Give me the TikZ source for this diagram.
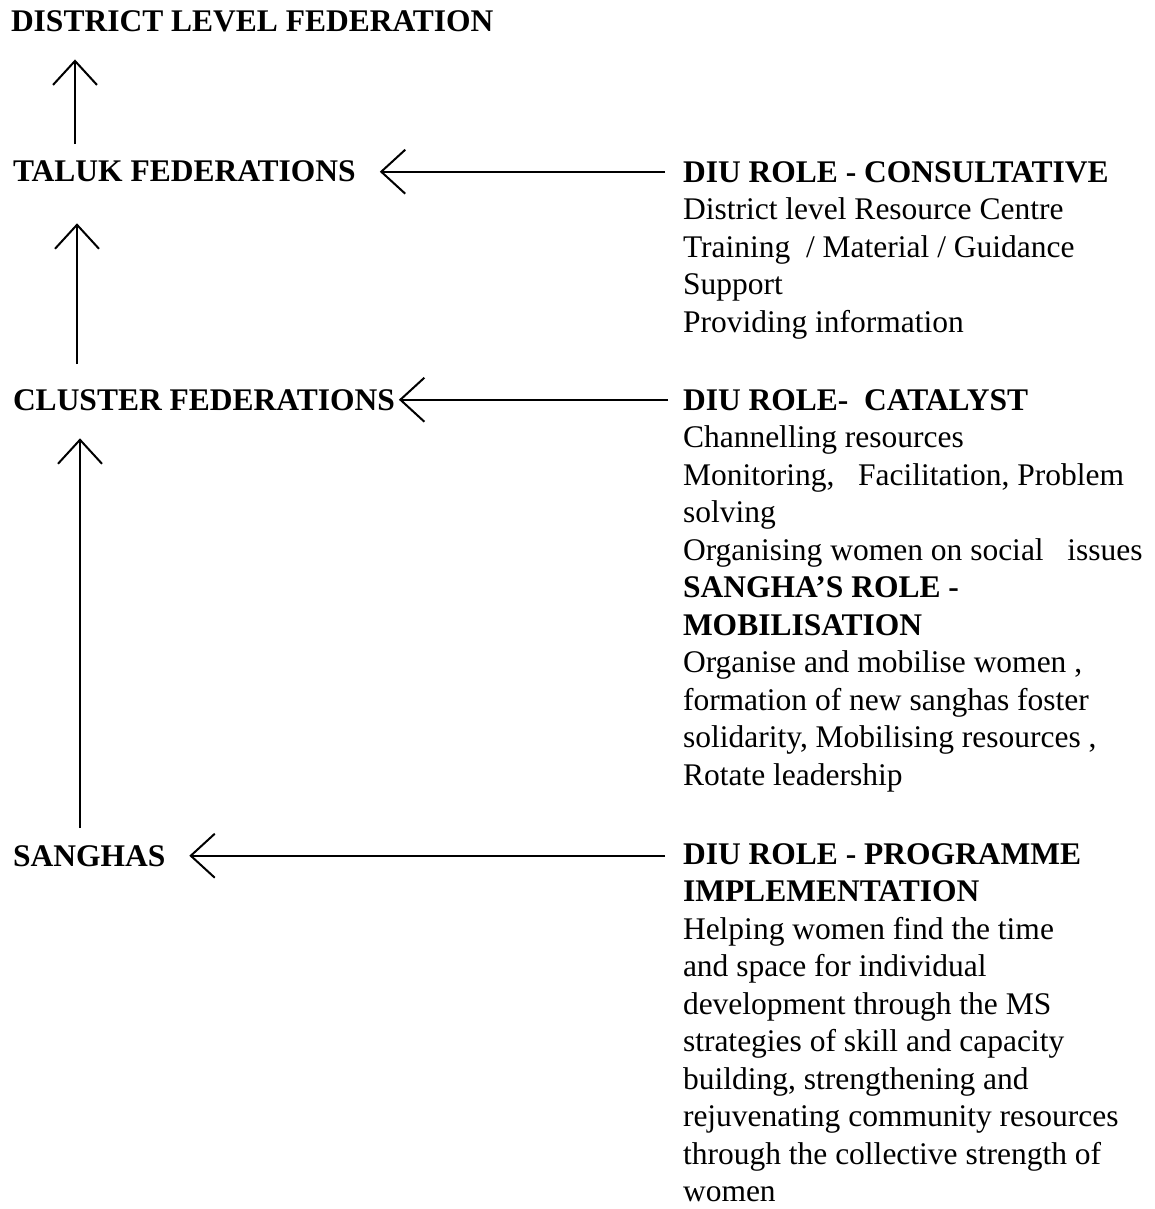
\documentclass[tikz,border=0pt]{standalone}
\usepackage{fontspec}
\setmainfont{Liberation Serif}
\usetikzlibrary{arrows.meta}

\newcommand{\diagfont}{\fontsize{31.5}{37.5}\selectfont}
\tikzset{every picture/.style={line width=2pt}}
\tikzset{
  level/.style={anchor=base west, inner sep=0pt, font=\diagfont\bfseries},
  role/.style={anchor=base west, inner sep=0pt, align=left, font=\diagfont},
  link/.style={-{Straight Barb[length=24pt,width=44pt]}, line width=2pt},
}

\begin{document}
\begin{tikzpicture}[x=1pt,y=1pt,yscale=-1,xscale=1]
    \useasboundingbox (0,0) rectangle (1155,1209);

    % Text Node
    \node [level] (district) at (10,32) {DISTRICT LEVEL FEDERATION};
    % Text Node
    \node [level] (taluk) at (12,182) {TALUK FEDERATIONS};
    % Text Node
    \node [level] (cluster) at (12,410) {CLUSTER FEDERATIONS};
    % Text Node
    \node [level] (sanghas) at (12,866) {SANGHAS};

    % Text Node (base = last line)
    \node [role] (consult) at (682,332) {\textbf{DIU ROLE - CONSULTATIVE}\\District level Resource Centre\\Training~ / Material / Guidance\\Support\\Providing information};
    % Text Node
    \node [role] (catalyst) at (682,785) {\textbf{DIU ROLE-~ CATALYST}\\Channelling resources\\Monitoring,~~ Facilitation, Problem\\solving\\Organising women on social~~ issues\\\textbf{SANGHA'S ROLE -}\\\textbf{MOBILISATION}\\Organise and mobilise women ,\\formation of new sanghas foster\\solidarity, Mobilising resources ,\\Rotate leadership};
    % Text Node
    \node [role] (programme) at (682,1201.5) {\textbf{DIU ROLE - PROGRAMME}\\\textbf{IMPLEMENTATION}\\Helping women find the time\\and space for individual\\development through the MS\\strategies of skill and capacity\\building, strengthening and\\rejuvenating community resources\\through the collective strength of\\women};

    %Straight Lines
    \draw [link, shorten <=16pt, shorten >=26pt] ([xshift=63pt]taluk.north west) -- ([xshift=63pt]taluk.north west |- district.south);
    %Straight Lines
    \draw [link, shorten <=24pt, shorten >=40pt] ([xshift=65pt]cluster.north west) -- ([xshift=65pt]cluster.north west |- taluk.south);
    %Straight Lines
    \draw [link, shorten <=16pt, shorten >=27pt] ([xshift=68pt]sanghas.north west) -- ([xshift=68pt]sanghas.north west |- cluster.south);

    %Straight Lines
    \draw [link, shorten <=17pt, shorten >=23pt] (consult.west |- taluk.east) -- (taluk.east);
    %Straight Lines
    \draw [link, shorten <=14pt, shorten >=3pt] (catalyst.west |- cluster.east) -- (cluster.east);
    %Straight Lines
    \draw [link, shorten <=17pt, shorten >=23pt] (programme.west |- sanghas.east) -- (sanghas.east);
\end{tikzpicture}
\end{document}
